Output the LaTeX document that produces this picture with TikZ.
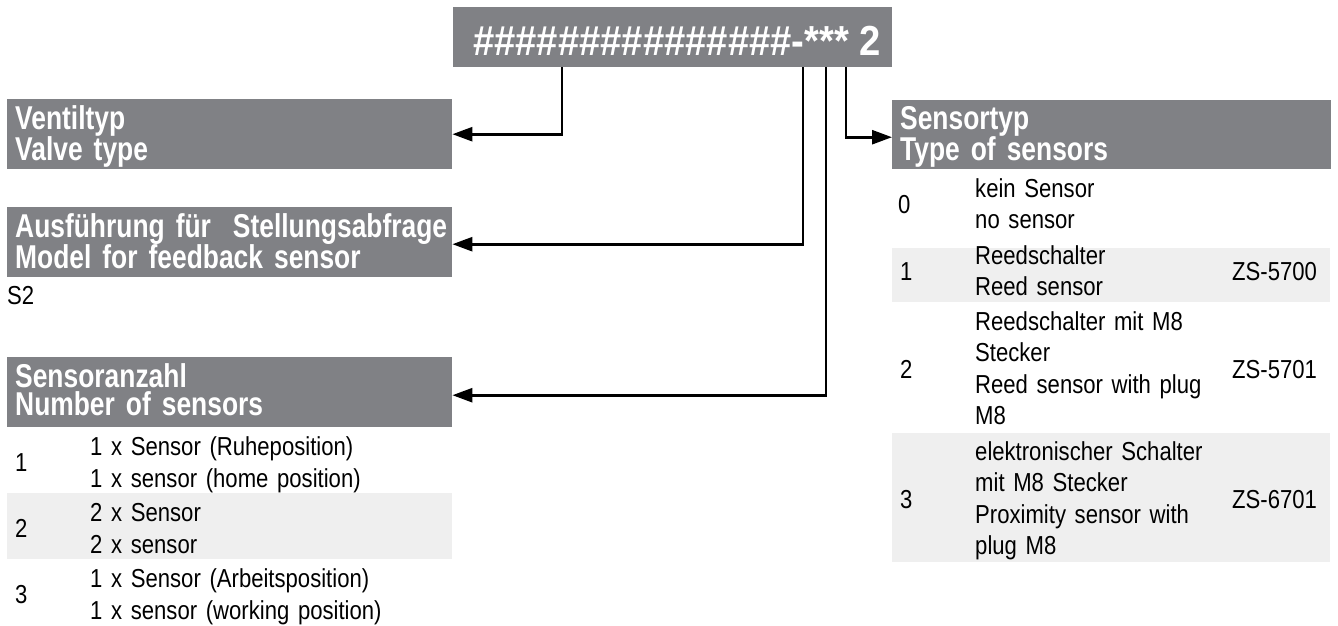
\documentclass[tikz,border=0pt]{standalone}
\usepackage{fontspec}
\setmainfont{Liberation Sans}[FakeStretch=0.85]
\newfontfamily\hdrfont{Liberation Sans}[FakeStretch=0.80]
\newfontfamily\topfont{Liberation Sans}[FakeStretch=0.91]
\usetikzlibrary{arrows.meta}
\definecolor{hdrgrey}{RGB}{128,129,133}
\definecolor{rowgrey}{RGB}{239,239,239}
\hyphenpenalty=10000
\exhyphenpenalty=10000
\begin{document}
\begin{tikzpicture}[x=1pt,y=-1pt,
  hdrbox/.style={fill=hdrgrey, draw=none, anchor=north west, inner sep=0pt},
  hdrtxt/.style={anchor=base west, inner sep=0pt, text=white, text width=436pt, align=left,
    font={\hdrfont\bfseries\fontsize{33}{28}\selectfont\fontdimen2\font 4.5pt\relax}},
  cell/.style={anchor=base west, inner sep=0pt, text width=300pt, align=left,
    font={\fontsize{26}{32}\selectfont\fontdimen2\font 4.4pt\relax}},
  rcell/.style={anchor=base west, inner sep=0pt, text width=250pt, align=left,
    font={\fontsize{26}{31.5}\selectfont\fontdimen2\font 4.4pt\relax}},
  num/.style={anchor=base west, inner sep=0pt, font={\fontsize{26}{32}\selectfont}},
  arr/.style={line width=2.6pt, -{Triangle[length=20pt,width=14pt]}}
]
\useasboundingbox (0,0) rectangle (1338,625);

% top code box
\node[hdrbox, minimum width=439pt, minimum height=60pt] (top) at (453,7) {};
\node[anchor=base west, inner sep=0pt, text=white, font={\topfont\bfseries\fontsize{42}{42}\selectfont}] (topT) at (473,55) {\#\#\#\#\#\#\#\#\#\#\#\#\#\#\#-*** 2};

% left header boxes
\node[hdrbox, minimum width=445pt, minimum height=70pt] (vt) at (7,99) {};
\node[hdrtxt] (vtT) at (15,129) {Ventiltyp\\Valve type};

\node[hdrbox, minimum width=445pt, minimum height=70pt] (af) at (7,207) {};
\node[hdrtxt] (afT) at (15,237) {Ausführung für~ Stellungsabfrage\\Model for feedback sensor};
\node[num] (s2) at (7,304) {S2};

\node[hdrbox, minimum width=445pt, minimum height=70pt] (sa) at (7,357) {};
\node[hdrtxt] (saT) at (15,387) {Sensoranzahl\\Number of sensors};

% left table
\fill[rowgrey] (7,493) rectangle (452,559);
\node[num] (n1) at (15,471) {1};
\node[cell] (c1) at (90,455) {1 x Sensor (Ruheposition)\\1 x sensor (home position)};
\node[num] (n2) at (15,537) {2};
\node[cell] (c2) at (90,521) {2 x Sensor\\2 x sensor};
\node[num] (n3) at (15,603) {3};
\node[cell] (c3) at (90,587) {1 x Sensor (Arbeitsposition)\\1 x sensor (working position)};

% right header box
\node[hdrbox, minimum width=439pt, minimum height=69pt] (st) at (892,100) {};
\node[hdrtxt] (stT) at (900,129) {Sensortyp\\Type of sensors};

% right table
\fill[rowgrey] (892,248) rectangle (1330,302);
\fill[rowgrey] (892,433) rectangle (1330,562);
\node[num] (r0) at (898,213) {0};
\node[rcell] (d0) at (975,197) {kein Sensor\\no sensor};
\node[num] (r1) at (900,280) {1};
\node[rcell] (d1) at (975,264) {Reedschalter\\Reed sensor};
\node[num] (z1) at (1232,280) {ZS-5700};
\node[num] (r2) at (900,378) {2};
\node[rcell] (d2) at (975,330) {Reedschalter mit M8\\Stecker\\Reed sensor with plug\\M8};
\node[num] (z2) at (1232,378) {ZS-5701};
\node[num] (r3) at (900,508) {3};
\node[rcell] (d3) at (975,460) {elektronischer Schalter\\mit M8 Stecker\\Proximity sensor with\\plug M8};
\node[num] (z3) at (1232,508) {ZS-6701};

% connectors
\coordinate (t1) at (562,67);
\coordinate (t2) at (803,67);
\coordinate (t3) at (826,67);
\coordinate (t4) at (846,67);
\draw[arr] (t1) |- (vt.east);
\draw[arr] (t2) |- ([yshift=-2pt]af.east);
\draw[arr] (t3) |- ([yshift=-3pt]sa.east);
\draw[arr] (t4) |- ([yshift=-2.5pt]st.west);
\end{tikzpicture}
\end{document}
